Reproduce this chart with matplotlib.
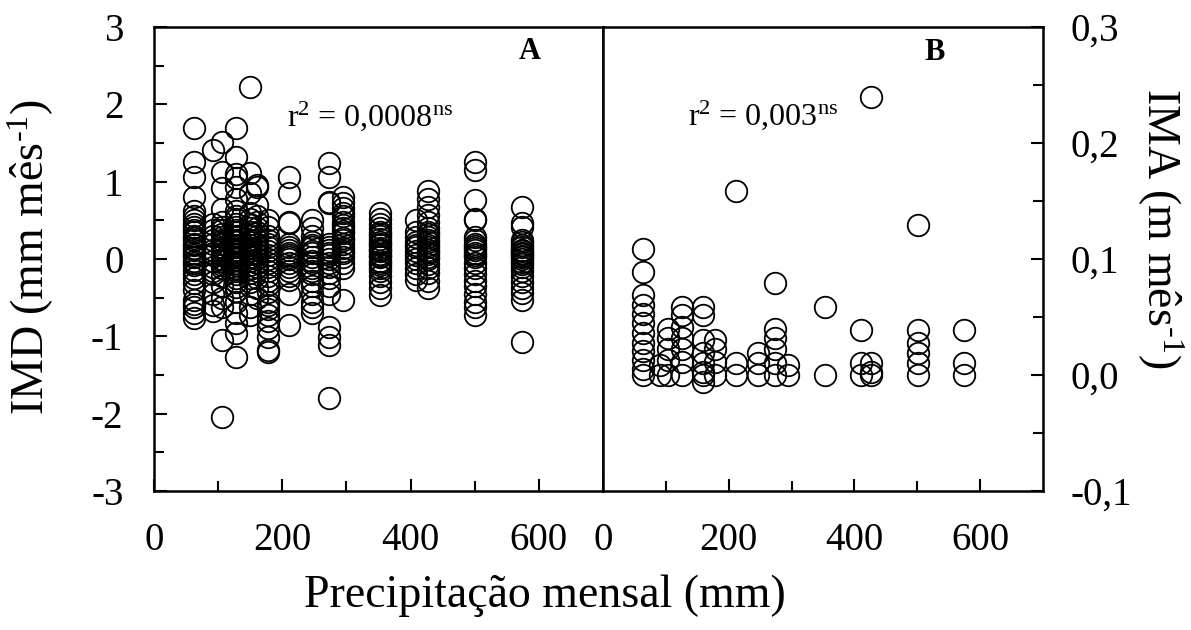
import numpy as np
import matplotlib
matplotlib.use('Agg')
import matplotlib.pyplot as plt

plt.rcParams['font.family'] = ['Liberation Serif', 'DejaVu Serif']
plt.rcParams['mathtext.fontset'] = 'custom'
plt.rcParams['mathtext.rm'] = 'Liberation Serif'
plt.rcParams['mathtext.it'] = 'Liberation Serif:italic'
plt.rcParams['axes.unicode_minus'] = False

#%% dados - painel A: precipitacao mensal (mm) x IMD (mm mes-1)

precip_a = [62, 92, 106, 128, 150, 160, 178, 211, 247, 273, 294, 352, 409, 427, 500, 573]

imd_062 = [1.69, 1.25, 1.06, 0.80, 0.62, 0.55, 0.50, 0.45, 0.42, 0.38, 0.35, 0.30, 0.27, 0.24,
           0.20, 0.18, 0.14, 0.12, 0.08, 0.05, 0.03, -0.02, -0.05, -0.08, -0.14, -0.20, -0.25,
           -0.31, -0.40, -0.53, -0.58, -0.62, -0.70, -0.76]
imd_092 = [1.41, 0.45, 0.38, 0.30, 0.25, 0.20, 0.12, 0.08, 0.05, -0.02, -0.10, -0.15, -0.20,
           -0.30, -0.45, -0.60, -0.67]
imd_106 = [1.51, 1.13, 0.92, 0.65, 0.48, 0.42, 0.38, 0.32, 0.28, 0.24, 0.20, 0.15, 0.12, 0.08,
           0.05, 0.00, -0.03, -0.08, -0.12, -0.22, -0.35, -0.50, -0.62, -1.05, -2.04]
imd_128 = [1.69, 1.32, 1.10, 1.05, 0.93, 0.78, 0.62, 0.55, 0.52, 0.45, 0.42, 0.38, 0.35, 0.30,
           0.28, 0.25, 0.22, 0.18, 0.15, 0.12, 0.10, 0.07, 0.05, 0.02, 0.00, -0.05, -0.08,
           -0.12, -0.16, -0.20, -0.25, -0.30, -0.36, -0.42, -0.55, -0.70, -0.83, -0.96, -1.27]
imd_150 = [2.23, 1.11, 0.85, 0.60, 0.52, 0.45, 0.40, 0.35, 0.30, 0.25, 0.22, 0.18, 0.14, 0.10,
           0.06, 0.02, -0.03, -0.08, -0.13, -0.18, -0.24, -0.30, -0.45, -0.62, -0.72]
imd_160 = [0.96, 0.93, 0.70, 0.55, 0.48, 0.40, 0.35, 0.30, 0.25, 0.20, 0.16, 0.12, 0.08, 0.05,
           0.00, -0.05, -0.10, -0.15, -0.25, -0.38, -0.50]
imd_178 = [0.50, 0.42, 0.30, 0.25, 0.20, 0.15, 0.10, 0.05, 0.00, -0.05, -0.10, -0.16, -0.22,
           -0.28, -0.33, -0.43, -0.55, -0.60, -0.65, -0.72, -0.80, -0.89, -1.01, -1.18, -1.20]
imd_211 = [1.06, 0.85, 0.48, 0.46, 0.20, 0.15, 0.12, 0.08, 0.05, 0.02, 0.00, -0.05, -0.10,
           -0.15, -0.22, -0.27, -0.45, -0.85]
imd_247 = [0.50, 0.40, 0.30, 0.22, 0.18, 0.15, 0.10, 0.08, 0.02, -0.02, -0.05, -0.12, -0.16,
           -0.20, -0.28, -0.35, -0.45, -0.55, -0.62, -0.70]
imd_273 = [1.24, 1.06, 0.74, 0.72, 0.20, 0.15, 0.12, 0.08, 0.05, 0.00, -0.05, -0.10, -0.18,
           -0.25, -0.35, -0.45, -0.88, -1.01, -1.11, -1.80]
imd_294 = [0.80, 0.72, 0.66, 0.60, 0.55, 0.48, 0.44, 0.40, 0.36, 0.33, 0.27, 0.24, 0.20,
           0.14, 0.10, 0.08, 0.02, -0.05, -0.12, -0.53]
imd_352 = [0.60, 0.52, 0.45, 0.40, 0.35, 0.32, 0.30, 0.26, 0.22, 0.20, 0.18, 0.14, 0.12,
           0.10, 0.06, 0.04, 0.02, -0.02, -0.05, -0.08, -0.12, -0.15, -0.22, -0.30, -0.38, -0.47]
imd_409 = [0.50, 0.35, 0.28, 0.22, 0.18, 0.15, 0.10, 0.05, 0.00, -0.05, -0.12, -0.20, -0.27]
imd_427 = [0.88, 0.78, 0.67, 0.57, 0.48, 0.40, 0.35, 0.32, 0.28, 0.25, 0.22, 0.18, 0.15,
           0.12, 0.09, 0.06, 0.03, 0.00, -0.06, -0.12, -0.18, -0.28, -0.38]
imd_500 = [1.26, 1.15, 0.76, 0.52, 0.50, 0.28, 0.24, 0.20, 0.17, 0.14, 0.11, 0.08, 0.05,
           0.02, -0.05, -0.12, -0.20, -0.28, -0.35, -0.45, -0.55, -0.62, -0.72]
imd_573 = [0.67, 0.46, 0.42, 0.25, 0.22, 0.18, 0.15, 0.12, 0.10, 0.08, 0.06, 0.04, 0.02,
           0.00, -0.04, -0.07, -0.10, -0.16, -0.22, -0.30, -0.38, -0.44, -0.53, -1.07]

imd_cols = [imd_062, imd_092, imd_106, imd_128, imd_150, imd_160, imd_178, imd_211,
            imd_247, imd_273, imd_294, imd_352, imd_409, imd_427, imd_500, imd_573]

#%% dados - painel B: precipitacao mensal (mm) x IMA (m mes-1)

precip_b = [63, 91, 104, 125, 159, 178, 211, 246, 273, 294, 353, 411, 427, 501, 575]

ima_063 = [0.109, 0.089, 0.069, 0.060, 0.053, 0.045, 0.036, 0.028, 0.021, 0.013, 0.005, 0.0]
ima_091 = [0.009, 0.0]
ima_104 = [0.040, 0.032, 0.022, 0.013, 0.0]
ima_125 = [0.059, 0.052, 0.041, 0.032, 0.022, 0.011, 0.0]
ima_159 = [0.059, 0.052, 0.030, 0.019, 0.010, 0.003, 0.0, -0.006]
ima_178 = [0.030, 0.022, 0.011, 0.0]
ima_211 = [0.159, 0.010, 0.0]
ima_246 = [0.019, 0.010, 0.0]
ima_273 = [0.079, 0.040, 0.032, 0.022, 0.010, 0.0]
ima_294 = [0.009, 0.0]
ima_353 = [0.059, 0.0]
ima_411 = [0.039, 0.010, 0.0]
ima_427 = [0.240, 0.010, 0.003, 0.0]
ima_501 = [0.129, 0.039, 0.028, 0.019, 0.010, 0.0]
ima_575 = [0.039, 0.010, 0.0]

ima_cols = [ima_063, ima_091, ima_104, ima_125, ima_159, ima_178, ima_211, ima_246,
            ima_273, ima_294, ima_353, ima_411, ima_427, ima_501, ima_575]

# ticks
xticks = [0, 200, 400, 600]
xticklabels = ['0', '200', '400', '600']
yticks_a = [-3, -2, -1, 0, 1, 2, 3]
yticklabels_a = ['-3', '-2', '-1', '0', '1', '2', '3']
yticks_b = [-0.1, 0.0, 0.1, 0.2, 0.3]
yticklabels_b = ['-0,1', '0,0', '0,1', '0,2', '0,3']

#%% figura

W, H = 1191, 630
fig = plt.figure(figsize=(W / 100, H / 100), dpi=100)
ax1 = fig.add_axes([154 / W, 1 - 491 / H, 449 / W, 464 / H])
ax2 = fig.add_axes([603 / W, 1 - 491 / H, 440 / W, 464 / H])

mk = dict(marker='o', ls='none', mfc='none', mec='black', ms=15.5, mew=1.3)

for xv, vals in zip(precip_a, imd_cols):
    ax1.plot(np.full(len(vals), xv), vals, **mk)

for xv, vals in zip(precip_b, ima_cols):
    ax2.plot(np.full(len(vals), xv), vals, **mk)

for ax in (ax1, ax2):
    ax.set_xlim(0, 700)
    ax.set_xticks(xticks, xticklabels)
    ax.set_xticks([100, 300, 500], minor=True)
    for s in ax.spines.values():
        s.set_linewidth(1.8)
    ax.tick_params(which='both', direction='in', width=1.5, labelsize=28, top=False)
    ax.tick_params(which='major', length=9)
    ax.tick_params(which='minor', length=7)
    ax.tick_params(axis='x', pad=22)

ax1.set_ylim(-3, 3)
ax1.set_yticks(yticks_a, yticklabels_a)
ax1.set_yticks([-2.5, -1.5, -0.5, 0.5, 1.5, 2.5], minor=True)
ax1.tick_params(axis='y', which='both', right=False, pad=22)

ax2.set_ylim(-0.1, 0.3)
ax2.yaxis.tick_right()
ax2.set_yticks(yticks_b, yticklabels_b)
ax2.set_yticks([-0.05, 0.05, 0.15, 0.25], minor=True)
ax2.tick_params(axis='y', which='both', left=False, right=True, labelleft=False,
                labelright=True, pad=20)

ax1.text(586, 2.68, 'A', fontsize=22, fontweight='bold', ha='center', va='center')
ax2.text(527, 0.278, 'B', fontsize=22, fontweight='bold', ha='center', va='center')
ax1.text(207, 1.85, r'r$^2$ = 0,0008$^{\mathrm{ns}}$', fontsize=23, ha='left', va='center')
ax2.text(136, 0.224, r'r$^2$ = 0,003$^{\mathrm{ns}}$', fontsize=23, ha='left', va='center')

fig.text(31 / W, 1 - 257 / H, r'IMD (mm mês$^{\text{-1}}$)', fontsize=33,
         rotation=90, ha='center', va='center')
fig.text(1160 / W, 1 - 228 / H, r'IMA (m mês$^{\text{-1}}$)', fontsize=33,
         rotation=-90, ha='center', va='center')
fig.text(545 / W, 1 - 596 / H, 'Precipitação mensal (mm)', fontsize=33,
         ha='center', va='center')

fig.savefig('out.png', dpi=100)
